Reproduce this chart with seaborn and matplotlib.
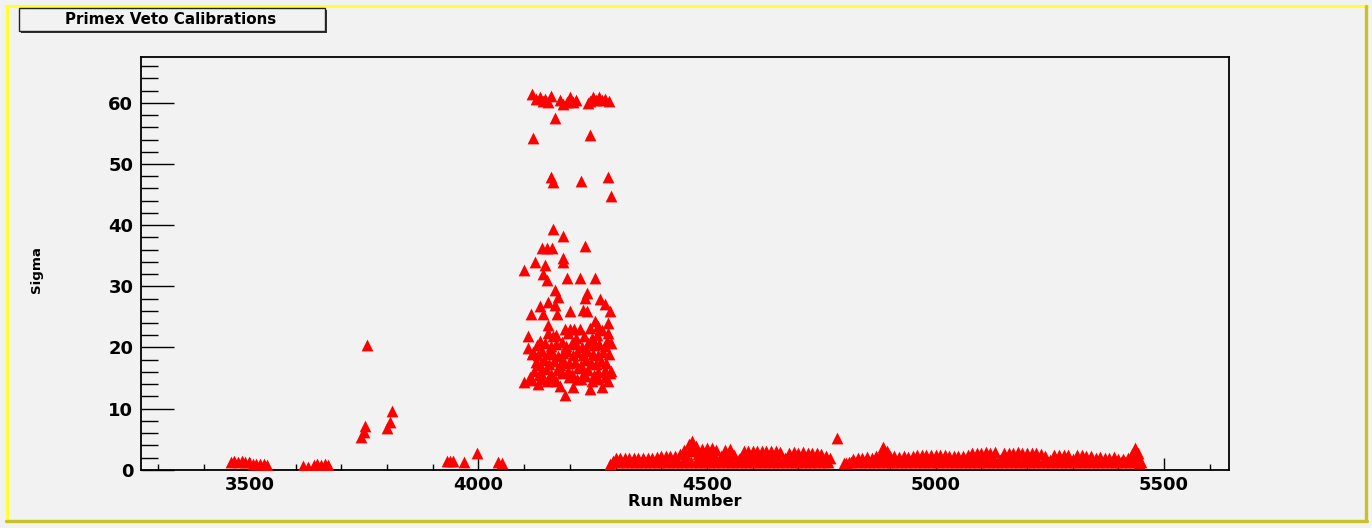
import matplotlib

matplotlib.use("Agg")
import matplotlib.pyplot as plt
import seaborn as sns
import pandas as pd
from matplotlib.patches import Rectangle
from matplotlib.lines import Line2D
from matplotlib.ticker import MultipleLocator

# --- data (run number, sigma) ---
early_runs = [3458, 3466, 3474, 3482, 3490, 3498, 3506, 3514, 3522, 3530, 3538,
              3617, 3628, 3640, 3648, 3656, 3664, 3672,
              3744, 3749, 3752, 3756, 3801, 3806, 3812,
              3932, 3938, 3944, 3969, 3996, 4044, 4051]
early_sigma = [1.3, 1.4, 1.3, 1.4, 1.3, 1.2, 0.9, 0.9, 1.0, 0.9, 0.8,
               0.7, 0.5, 0.8, 0.9, 0.8, 0.9, 0.8,
               5.3, 6.2, 7.2, 20.4, 6.9, 7.8, 9.6,
               1.4, 1.5, 1.4, 1.2, 2.7, 1.3, 1.1]

cluster_runs = [
    # top row
    4118, 4126, 4135, 4141, 4146, 4152, 4158, 4179, 4186, 4193, 4200, 4206,
    4213, 4240, 4245, 4251, 4258, 4264, 4271, 4277, 4286,
    # scattered
    4168, 4119, 4244, 4158, 4164, 4225, 4283, 4290, 4164, 4186, 4139, 4150,
    4160, 4233, 4186, 4185, 4124, 4100, 4146, 4142, 4150, 4193, 4222, 4255,
    4168, 4175, 4237, 4233, 4153, 4168, 4266, 4277, 4288, 4135, 4115, 4142,
    4171, 4200, 4229, 4237, 4255, 4153, 4284, 4190, 4200, 4210, 4222, 4244,
    4109, 4135, 4153, 4164, 4284, 4281, 4109, 4117, 4262, 4270,
    4170, 4196, 4232, 4260, 4248, 4214,
    # lower edge
    4100, 4112, 4131, 4133, 4179, 4208, 4190, 4244, 4270, 4284, 4291, 4150,
    4160, 4225, 4255,
    # dense body
    4118, 4140, 4156, 4170, 4198, 4216, 4234, 4248, 4262, 4278,
    4122, 4138, 4148, 4158, 4172, 4184, 4196, 4204, 4218, 4230, 4240, 4252,
    4262, 4276, 4288,
    4126, 4134, 4144, 4154, 4166, 4178, 4188, 4198, 4212, 4224, 4236, 4246,
    4258, 4268, 4280,
    4120, 4130, 4140, 4152, 4162, 4174, 4186, 4194, 4206, 4216, 4228, 4238,
    4250, 4262, 4272, 4286,
    4128, 4146, 4158, 4170, 4182, 4192, 4204, 4214, 4226, 4240, 4252, 4264,
    4276, 4290,
]
cluster_sigma = [
    61.5, 60.6, 60.9, 60.3, 60.6, 60.2, 61.1, 60.4, 59.8, 60.2, 60.9, 60.1,
    60.4, 59.9, 60.3, 60.9, 60.5, 60.9, 60.4, 60.6, 60.3,
    57.6, 54.2, 54.8, 47.8, 47.0, 47.3, 47.8, 44.8, 39.3, 38.2, 36.3, 36.3,
    36.3, 36.6, 34.7, 34.0, 33.9, 32.6, 33.5, 32.0, 31.1, 31.4, 31.4, 31.4,
    29.4, 28.3, 28.9, 28.1, 27.4, 26.9, 27.9, 27.1, 26.0, 26.8, 25.5, 25.5,
    25.5, 26.0, 26.2, 26.0, 24.3, 23.6, 24.0, 23.0, 23.0, 23.0, 23.0, 23.2,
    21.8, 21.1, 22.3, 21.8, 22.4, 21.0, 19.9, 18.9, 23.5, 22.8,
    22.0, 22.3, 21.9, 22.0, 21.5, 21.6,
    14.3, 15.1, 14.0, 15.5, 13.7, 13.5, 12.2, 13.2, 13.5, 14.5, 16.1, 14.5,
    15.0, 14.8, 15.0,
    14.7, 14.9, 15.2, 14.6, 15.1, 14.8, 15.3, 14.6, 14.9, 15.2,
    16.2, 15.8, 16.5, 15.6, 16.4, 15.9, 16.1, 15.7, 16.6, 15.9, 16.3, 15.5,
    16.0, 16.4, 15.8,
    17.6, 17.2, 17.9, 17.3, 17.8, 17.1, 17.7, 17.4, 17.6, 17.2, 17.9, 17.5,
    17.3, 17.8, 17.4,
    19.2, 18.7, 19.4, 18.9, 19.3, 18.6, 19.1, 19.5, 18.8, 19.2, 18.7, 19.4,
    19.0, 18.8, 19.3, 18.9,
    20.4, 20.8, 20.2, 20.6, 20.9, 20.3, 20.7, 20.5, 20.1, 20.8, 20.4, 20.6,
    20.2, 20.7,
]

# upper edge of the long low band
band_runs = [
    4288, 4294, 4300, 4310, 4320, 4330, 4340, 4350, 4360, 4370, 4380, 4390,
    4400, 4410, 4420, 4430, 4440, 4450, 4460, 4467, 4475, 4480, 4490, 4500,
    4510, 4520, 4530, 4540, 4550, 4560, 4570, 4580, 4590, 4600, 4610, 4620,
    4630, 4640, 4650, 4660, 4670, 4680, 4690, 4700, 4710, 4720, 4730, 4740,
    4750, 4760, 4770, 4784, 4800, 4810, 4820, 4830, 4840, 4850, 4860, 4870,
    4880, 4886, 4893, 4900, 4910, 4920, 4930, 4940, 4950, 4960, 4970, 4980,
    4990, 5000, 5010, 5020, 5030, 5040, 5050, 5060, 5070, 5080, 5090, 5100,
    5110, 5120, 5130, 5140, 5150, 5160, 5170, 5180, 5190, 5200, 5210, 5220,
    5230, 5240, 5250, 5260, 5270, 5280, 5290, 5300, 5310, 5320, 5330, 5340,
    5350, 5360, 5370, 5380, 5390, 5400, 5410, 5420, 5430, 5436, 5442, 5450,
]
band_sigma = [
    0.9, 1.5, 1.9, 2.0, 2.0, 1.9, 2.0, 2.0, 2.0, 1.9, 2.0, 2.1,
    2.2, 2.2, 2.3, 2.2, 2.6, 3.2, 4.2, 4.7, 3.9, 2.6, 3.4, 3.5,
    3.6, 3.2, 2.2, 3.3, 3.4, 2.5, 1.8, 3.0, 3.1, 3.1, 3.0, 3.1,
    3.1, 3.0, 3.1, 2.9, 1.9, 2.8, 2.9, 2.8, 2.9, 2.8, 2.8, 2.7,
    2.6, 2.3, 2.0, 5.2, 1.1, 1.3, 1.7, 2.0, 2.0, 2.1, 2.0, 2.2,
    2.8, 3.8, 3.0, 2.3, 2.2, 2.1, 2.2, 2.1, 2.3, 2.5, 2.4, 2.5,
    2.4, 2.5, 2.4, 2.5, 2.2, 2.2, 2.3, 2.2, 2.5, 2.8, 2.7, 2.8,
    2.9, 2.8, 2.9, 1.6, 2.7, 2.8, 2.8, 2.9, 2.8, 2.7, 2.8, 2.7,
    2.6, 2.2, 1.6, 2.5, 2.5, 2.4, 2.5, 1.8, 2.4, 2.4, 2.2, 2.2,
    2.0, 2.1, 2.0, 2.0, 2.1, 1.8, 1.8, 1.9, 2.6, 3.5, 2.8, 1.2,
]

# middle of the band where it is tall
mid_runs = [
    4455, 4462, 4470, 4485, 4495, 4505, 4515, 4535, 4545, 4575, 4585, 4595,
    4605, 4615, 4625, 4635, 4645, 4655, 4675, 4685, 4695, 4705, 4715, 4725,
    4735, 4745, 4883, 4890, 5085, 5095, 5105, 5115, 5125, 5155, 5165, 5175,
    5185, 5195, 5205, 5215, 5433, 5440,
]
mid_sigma = [
    2.4, 3.2, 3.0, 2.4, 2.5, 2.6, 2.5, 2.3, 2.4, 2.1, 2.1, 2.1,
    2.1, 2.1, 2.1, 2.1, 2.1, 2.0, 1.9, 1.9, 1.9, 1.9, 1.9, 1.9,
    1.9, 1.8, 2.5, 2.4, 1.9, 1.9, 1.9, 1.9, 1.9, 1.9, 1.9, 1.9,
    1.9, 1.9, 1.9, 1.9, 2.3, 2.4,
]

# bottom of the band
base_runs = [
    4305, 4315, 4325, 4335, 4345, 4355, 4365, 4375, 4385, 4395, 4405, 4415,
    4425, 4435, 4445, 4455, 4465, 4475, 4485, 4495, 4505, 4515, 4525, 4535,
    4545, 4555, 4565, 4575, 4585, 4595, 4605, 4615, 4625, 4635, 4645, 4655,
    4665, 4675, 4685, 4695, 4705, 4715, 4725, 4735, 4745, 4755, 4765, 4805,
    4815, 4825, 4835, 4845, 4855, 4865, 4875, 4885, 4895, 4905, 4915, 4925,
    4935, 4945, 4955, 4965, 4975, 4985, 4995, 5005, 5015, 5025, 5035, 5045,
    5055, 5065, 5075, 5085, 5095, 5105, 5115, 5125, 5135, 5145, 5155, 5165,
    5175, 5185, 5195, 5205, 5215, 5225, 5235, 5245, 5255, 5265, 5275, 5285,
    5295, 5305, 5315, 5325, 5335, 5345, 5355, 5365, 5375, 5385, 5395, 5405,
    5415, 5425, 5435, 5445,
]
base_sigma = [
    1.2, 1.3, 1.2, 1.3, 1.3, 1.2, 1.3, 1.2, 1.3, 1.2, 1.3, 1.3,
    1.2, 1.3, 1.2, 1.3, 1.3, 1.2, 1.3, 1.2, 1.3, 1.3, 1.2, 1.3,
    1.2, 1.3, 1.2, 1.3, 1.3, 1.2, 1.3, 1.2, 1.3, 1.2, 1.3, 1.3,
    1.2, 1.3, 1.2, 1.3, 1.3, 1.2, 1.3, 1.2, 1.3, 1.2, 1.3, 1.1,
    1.2, 1.2, 1.3, 1.3, 1.2, 1.3, 1.2, 1.3, 1.2, 1.3, 1.3, 1.2,
    1.3, 1.2, 1.3, 1.3, 1.2, 1.3, 1.2, 1.3, 1.2, 1.3, 1.3, 1.2,
    1.3, 1.2, 1.3, 1.3, 1.2, 1.3, 1.2, 1.3, 1.2, 1.3, 1.3, 1.2,
    1.3, 1.2, 1.3, 1.3, 1.2, 1.3, 1.2, 1.3, 1.2, 1.3, 1.3, 1.2,
    1.3, 1.2, 1.3, 1.3, 1.2, 1.3, 1.2, 1.3, 1.2, 1.3, 1.3, 1.2,
    1.3, 1.2, 1.3, 1.1,
]

df = pd.DataFrame({
    "run": early_runs + cluster_runs + band_runs + mid_runs + base_runs,
    "sigma": early_sigma + cluster_sigma + band_sigma + mid_sigma + base_sigma,
})

# --- figure ---
sns.set_style("ticks")
plt.rcParams["font.family"] = ["DejaVu Sans"]
plt.rcParams["text.color"] = "black"

W, H = 1372, 528
BG = "#f2f2f2"
fig = plt.figure(figsize=(W / 100, H / 100), dpi=100, facecolor=BG)

x0, x1, y0, y1 = 141, 1229, 57, 469.8
ax = fig.add_axes([x0 / W, 1 - y1 / H, (x1 - x0) / W, (y1 - y0) / H])
ax.set_facecolor(BG)

sns.scatterplot(data=df, x="run", y="sigma", marker="^", s=72,
                color="#ff0000", linewidth=0, ax=ax, legend=False, zorder=3)

ax.set_xlim(3262, 5642)
ax.set_ylim(0, 67.5)
ax.xaxis.set_major_locator(MultipleLocator(500))
ax.xaxis.set_minor_locator(MultipleLocator(100))
ax.yaxis.set_major_locator(MultipleLocator(10))
ax.yaxis.set_minor_locator(MultipleLocator(2))
ax.tick_params(axis="y", which="major", direction="in", length=24, width=1.0,
               labelsize=13, pad=5.5, color="black", labelcolor="black")
ax.tick_params(axis="y", which="minor", direction="in", length=12, width=1.0,
               color="black")
ax.tick_params(axis="x", which="major", direction="in", length=9, width=1.0,
               labelsize=13, pad=4.5, color="black", labelcolor="black")
ax.tick_params(axis="x", which="minor", direction="in", length=4.5, width=1.0,
               color="black")
for lab in ax.get_xticklabels() + ax.get_yticklabels():
    lab.set_fontweight("bold")
for sp in ax.spines.values():
    sp.set_linewidth(1.3)
    sp.set_color("black")
ax.set_xlabel("")
ax.set_ylabel("")

fig.text(684.5 / W, 1 - 501 / H, "Run Number", ha="center", va="center",
         fontsize=11.6, fontweight="bold")
fig.text(37 / W, 1 - 270 / H, "Sigma", ha="center", va="center",
         rotation=90, fontsize=9.6, fontweight="bold")

# title box with shadow
bx0, bx1, by0, by1 = 19, 325, 8, 31
fig.patches.append(Rectangle(((bx0 + 2) / W, 1 - (by1 + 2) / H),
                             (bx1 - bx0) / W, (by1 - by0) / H,
                             transform=fig.transFigure, facecolor="#333333",
                             edgecolor="none", zorder=1))
fig.patches.append(Rectangle((bx0 / W, 1 - by1 / H), (bx1 - bx0) / W,
                             (by1 - by0) / H, transform=fig.transFigure,
                             facecolor=BG, edgecolor="#222222", lw=1.0,
                             zorder=2))
fig.text(171 / W, 1 - 19 / H, "Primex Veto Calibrations", ha="center",
         va="center", fontsize=10.9, fontweight="bold", zorder=3)


# yellow canvas frame
def fline(xs, ys, color, lw):
    fig.lines.append(Line2D([x / W for x in xs], [1 - y / H for y in ys],
                            transform=fig.transFigure, color=color, lw=lw))


fline([6, 1367], [6, 6], "#ffff33", 2.2)
fline([7, 7], [6, 521], "#ffff33", 2.2)
fline([6, 1367], [520.5, 520.5], "#c8c22a", 2.4)
fline([1366, 1366], [6, 521], "#c8c22a", 2.4)

fig.savefig("out.png", dpi=100, facecolor=BG)
